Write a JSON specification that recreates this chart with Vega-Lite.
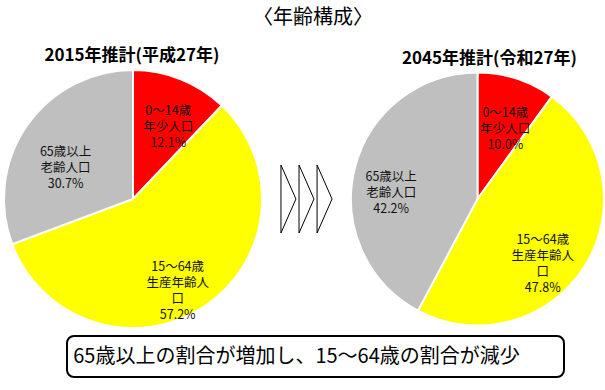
{
  "$schema": "https://vega.github.io/schema/vega-lite/v6.json",
  "background": "white",
  "padding": {"left": 0, "right": 5, "top": 8, "bottom": 0},
  "config": {"view": {"stroke": null}, "font": "Noto Sans CJK JP"},
  "title": {"text": "〈年齢構成〉", "fontSize": 20, "fontWeight": "normal", "font": "Noto Sans CJK JP", "anchor": "middle", "dx": 9, "offset": 19, "color": "#000"},
  "datasets": {
    "y2015": [
      {"idx": 1, "group": "年少人口", "label": "0～14歳\n年少人口\n12.1%", "value": 12.1},
      {"idx": 2, "group": "生産年齢人口", "label": "15～64歳\n生産年齢人\n口\n57.2%", "value": 57.2},
      {"idx": 3, "group": "老齢人口", "label": "65歳以上\n老齢人口\n30.7%", "value": 30.7}
    ],
    "y2045": [
      {"idx": 1, "group": "年少人口", "label": "0～14歳\n年少人口\n10.0%", "value": 10.0},
      {"idx": 2, "group": "生産年齢人口", "label": "15～64歳\n生産年齢人\n口\n47.8%", "value": 47.8},
      {"idx": 3, "group": "老齢人口", "label": "65歳以上\n老齢人口\n42.2%", "value": 42.2}
    ],
    "chev": [{"k": 1}, {"k": 2}, {"k": 3}],
    "note": [{"text": "65歳以上の割合が増加し、15～64歳の割合が減少"}]
  },
  "vconcat": [
    {
      "spacing": 8,
      "hconcat": [
        {
          "width": 258, "height": 258,
          "title": {"text": "2015年推計(平成27年)", "fontSize": 17, "fontWeight": "bold", "dx": -1, "offset": 1, "color": "#000"},
          "data": {"name": "y2015"},
          "encoding": {
            "theta": {"field": "value", "type": "quantitative", "stack": true},
            "order": {"field": "idx", "type": "quantitative"}
          },
          "layer": [
            {"mark": {"type": "arc", "stroke": "white", "strokeWidth": 2},
             "encoding": {"color": {"field": "group", "type": "nominal", "legend": null,
               "scale": {"domain": ["年少人口", "生産年齢人口", "老齢人口"], "range": ["#FF0000", "#FFFF00", "#BFBFBF"]}}}},
            {"mark": {"type": "text", "radius": 95, "fontSize": 12.5, "lineBreak": "\n", "lineHeight": 16, "color": "#111"},
             "encoding": {"text": {"condition": {"test": "datum.idx == 1", "field": "label"}, "value": ""}}},
            {"mark": {"type": "text", "radius": 81, "fontSize": 12.5, "lineBreak": "\n", "lineHeight": 16, "color": "#111"},
             "encoding": {"text": {"condition": {"test": "datum.idx == 2", "field": "label"}, "value": ""}}},
            {"mark": {"type": "text", "radius": 82, "fontSize": 12.5, "lineBreak": "\n", "lineHeight": 16, "color": "#111"},
             "encoding": {"text": {"condition": {"test": "datum.idx == 3", "field": "label"}, "value": ""}}}
          ]
        },
        {
          "width": 65, "height": 258,
          "title": {"text": " ", "fontSize": 17, "fontWeight": "bold", "offset": 1},
          "data": {"name": "chev"},
          "mark": {"type": "point", "shape": "M -0.22 -1 L 0.22 0 L -0.22 1 Z", "size": 4624, "filled": false, "stroke": "#000", "strokeWidth": 1, "opacity": 1},
          "encoding": {"x": {"field": "k", "type": "quantitative", "scale": {"domain": [0.2, 3.8]}, "axis": null}}
        },
        {
          "width": 253, "height": 258,
          "title": {"text": "2045年推計(令和27年)", "fontSize": 17, "fontWeight": "bold", "dx": 12, "offset": 1, "color": "#000"},
          "data": {"name": "y2045"},
          "encoding": {
            "theta": {"field": "value", "type": "quantitative", "stack": true},
            "order": {"field": "idx", "type": "quantitative"}
          },
          "layer": [
            {"mark": {"type": "arc", "stroke": "white", "strokeWidth": 2},
             "encoding": {"color": {"field": "group", "type": "nominal", "legend": null,
               "scale": {"domain": ["年少人口", "生産年齢人口", "老齢人口"], "range": ["#FF0000", "#FFFF00", "#BFBFBF"]}}}},
            {"mark": {"type": "text", "radius": 90, "fontSize": 12.5, "lineBreak": "\n", "lineHeight": 16, "color": "#111"},
             "encoding": {"text": {"condition": {"test": "datum.idx == 1", "field": "label"}, "value": ""}}},
            {"mark": {"type": "text", "radius": 77, "fontSize": 12.5, "lineBreak": "\n", "lineHeight": 16, "color": "#111"},
             "encoding": {"text": {"condition": {"test": "datum.idx == 2", "field": "label"}, "value": ""}}},
            {"mark": {"type": "text", "radius": 89, "fontSize": 12.5, "lineBreak": "\n", "lineHeight": 16, "color": "#111"},
             "encoding": {"text": {"condition": {"test": "datum.idx == 3", "field": "label"}, "value": ""}}}
          ]
        }
      ]
    },
    {
      "spacing": 61,
      "hconcat": [
        {"width": 1, "height": 41, "data": {"values": []}, "mark": "point", "encoding": {}},
        {
          "width": 497, "height": 41,
          "data": {"name": "note"},
          "view": {"stroke": "#000", "strokeWidth": 2, "cornerRadius": 7, "fill": "white"},
          "mark": {"type": "text", "fontSize": 20, "dx": -19, "color": "#000"},
          "encoding": {"text": {"field": "text"}}
        }
      ]
    }
  ],
  "spacing": 3
}
